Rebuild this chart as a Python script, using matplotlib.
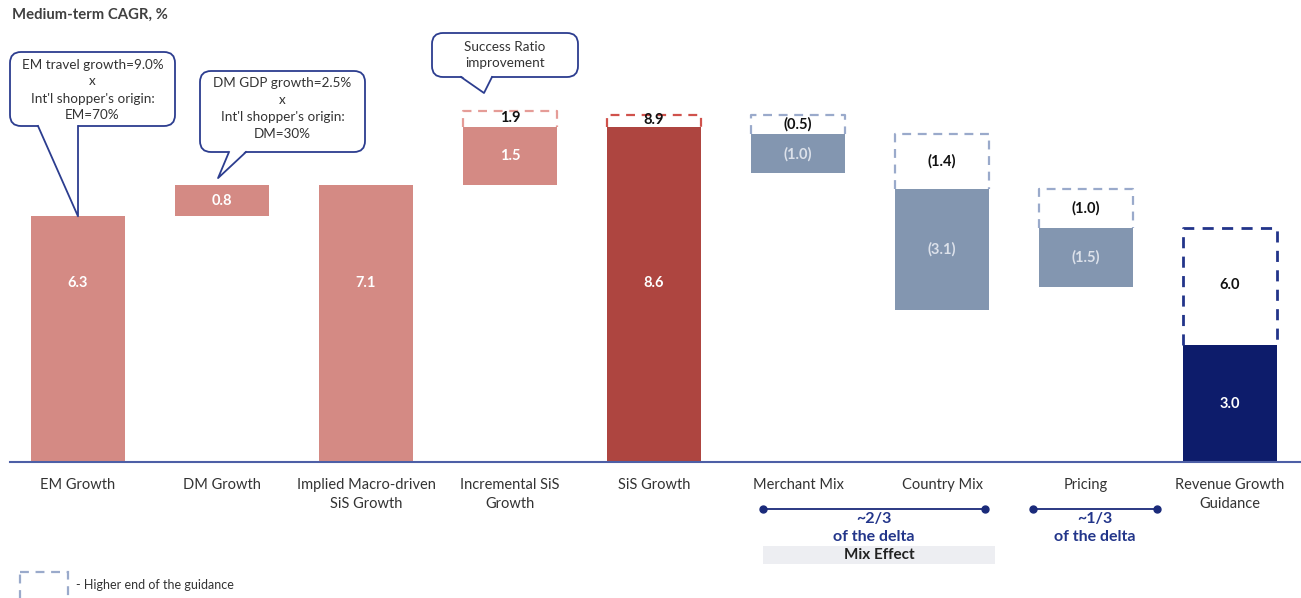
import numpy as np
import matplotlib
matplotlib.use("Agg")
import matplotlib.pyplot as plt
from matplotlib.patches import Rectangle, FancyBboxPatch, Polygon
from matplotlib.lines import Line2D
from matplotlib.transforms import Affine2D

plt.rcParams['font.family'] = ['Lato', 'DejaVu Sans']

# Dados do gráfico
categorias = ["EM Growth", "DM Growth", "Implied Macro-driven\nSiS Growth",
              "Incremental SiS\nGrowth", "SiS Growth", "Merchant Mix",
              "Country Mix", "Pricing", "Revenue Growth\nGuidance"]
tipos = ["step", "step", "total", "step", "total", "delta", "delta", "delta", "total"]
valor_baixo = [6.3, 0.8, 7.1, 1.5, 8.6, -1.0, -3.1, -1.5, 3.0]
valor_alto = [None, None, None, 1.9, 8.9, -0.5, -1.4, -1.0, 6.0]
rotulos_baixo = ["6.3", "0.8", "7.1", "1.5", "8.6", "(1.0)", "(3.1)", "(1.5)", "3.0"]
rotulos_alto = ["", "", "", "1.9", "8.9", "(0.5)", "(1.4)", "(1.0)", "6.0"]

# Cores
cor_barra = ["#D48A84", "#D48A84", "#D48A84", "#D48A84", "#AE4540",
             "#8396B0", "#8396B0", "#8396B0", "#0D1C6B"]
cor_trac = [None, None, None, "#E59C97", "#D0524C",
            "#9AAACB", "#9AAACB", "#9AAACB", "#22348A"]
azul = "#2C3D8F"
marinho = "#1A2A7A"

W, H = 1301, 598
fig = plt.figure(figsize=(W / 100, H / 100), dpi=100)
ax = fig.add_axes([0, 0, 1, 1])
ax.set_xlim(-78 / 144, (W - 78) / 144)
ax.set_ylim(-136 / 39, 462 / 39)
ax.axis("off")

# transformacao em pixels (origem no canto superior esquerdo)
px = Affine2D().scale(1 / W, -1 / H).translate(0, 1) + fig.transFigure

larg = 0.655


def tracejado(x, base, topo, cor, lw=1.6):
    # so os tres lados visiveis (o de baixo encosta na barra cheia)
    xe, xd = x - larg / 2, x + larg / 2
    ax.add_line(Line2D([xe, xe, xd, xd], [base, topo, topo, base], color=cor,
                       lw=lw, ls=(0, (4, 3)), zorder=3))


def barra(x, base, topo, cor):
    ax.add_patch(Rectangle((x - larg / 2, base), larg, topo - base,
                           fc=cor, ec="none", zorder=2))


def rot_alto(x, y, txt):
    ax.text(x, y, txt, ha="center", va="center", fontsize=10.5,
            fontweight="bold", color="#111111", zorder=4)


acumulado = 0.0
alto_acum = 0.0
for i, t in enumerate(tipos):
    b, a = valor_baixo[i], valor_alto[i]
    if t == "delta":
        # caixa tracejada = extremo superior, barra cheia logo abaixo
        topo_t = alto_acum
        base_t = alto_acum + a
        tracejado(i, base_t, topo_t, cor_trac[i])
        rot_alto(i, (topo_t + base_t) / 2, rotulos_alto[i])
        barra(i, base_t + b, base_t, cor_barra[i])
        y_lab = base_t + b / 2
        alto_acum = base_t
    else:
        base = acumulado if t == "step" else 0
        topo = base + b
        barra(i, base, topo, cor_barra[i])
        y_lab = 4.6 if (base == 0 and topo > 6) else (base + topo) / 2
        if a is not None:
            topo_a = base + a
            tracejado(i, topo, topo_a, cor_trac[i], lw=2.0 if i == 8 else 1.6)
            rot_alto(i, (topo + topo_a) / 2 + 0.03, rotulos_alto[i])
            alto_acum = topo_a
        acumulado = topo
    cor_txt = "#DCE1EA" if t == "delta" else "white"
    ax.text(i, y_lab, rotulos_baixo[i], ha="center", va="center", fontsize=10.5,
            fontweight="bold", color=cor_txt, zorder=4)

# linha de base
ax.add_line(Line2D([10, W], [462, 462], transform=px, color="#4D5FA6", lw=1.5, zorder=3))

# rotulos das categorias
for i, c in enumerate(categorias):
    ax.text(i, -0.42, c, ha="center", va="top", fontsize=10.5, color="#333333",
            linespacing=1.45)

# titulo
fig.text(12, 15, "Medium-term CAGR, %", transform=px, ha="left", va="center",
         fontsize=10.7, fontweight="bold", color="#404040")


def para_px(x, y):
    dx, dy = ax.transData.transform((x, y))
    return dx, H - dy


def balao(x0, y0, x1, y1, bl, br, ponta, linhas, ys):
    caixa = FancyBboxPatch((x0, y0), x1 - x0, y1 - y0,
                           boxstyle="round,pad=0,rounding_size=11",
                           transform=px, fc="white", ec=azul, lw=1.3, zorder=5)
    ax.add_patch(caixa)
    ax.add_patch(Polygon([(bl, y1 - 1.5), ponta, (br, y1 - 1.5)], closed=True,
                         transform=px, fc="white", ec="none", zorder=6))
    ax.add_line(Line2D([bl, ponta[0], br], [y1, ponta[1], y1], transform=px,
                       color=azul, lw=1.3, zorder=7))
    for txt, yy in zip(linhas, ys):
        ax.text((x0 + x1) / 2, yy, txt, transform=px, ha="center", va="center",
                fontsize=9.7, color="#333333", zorder=8)


balao(10, 52, 175, 126, 38, 78, para_px(0, 6.3),
      ["EM travel growth=9.0%", "x", "Int'l shopper's origin:", "EM=70%"],
      [65, 81, 99, 115])
px_dm = para_px(1 - larg / 2 + 0.3, 7.1)
balao(200, 71, 365, 152, 229, 246, (px_dm[0], px_dm[1] - 7),
      ["DM GDP growth=2.5%", "x", "Int'l shopper's origin:", "DM=30%"],
      [83, 100, 117, 134])
balao(432, 33, 578, 77, 461, 492, (484, 93),
      ["Success Ratio", "improvement"], [47, 63])

# chaves abaixo de Mix / Pricing
for xa, xb, xt, t1 in [(763, 985, 874, "~2/3"), (1033, 1157, 1095, "~1/3")]:
    ax.add_line(Line2D([xa, xb], [509, 509], transform=px, color=marinho, lw=1.3,
                       marker="o", markersize=5, markevery=[0, 1]))
    ax.text(xt, 519, t1, transform=px, ha="center", va="center", fontsize=11.5,
            fontweight="bold", color="#22358A")
    ax.text(xt, 537, "of the delta", transform=px, ha="center", va="center",
            fontsize=11.5, fontweight="bold", color="#22358A")

ax.add_patch(Rectangle((763, 546), 232, 18, transform=px, fc="#EDEEF2", ec="none"))
ax.text(879, 555, "Mix Effect", transform=px, ha="center", va="center", fontsize=11,
        fontweight="bold", color="#222222")

# legenda
ax.add_patch(Rectangle((20, 572), 48, 30, transform=px, fill=False, ec="#9AAACB",
                       lw=1.6, ls=(0, (4, 3)), clip_on=False))
ax.text(76, 585, "- Higher end of the guidance", transform=px, ha="left",
        va="center", fontsize=9, color="#333333")

fig.savefig("out.png", dpi=100)
